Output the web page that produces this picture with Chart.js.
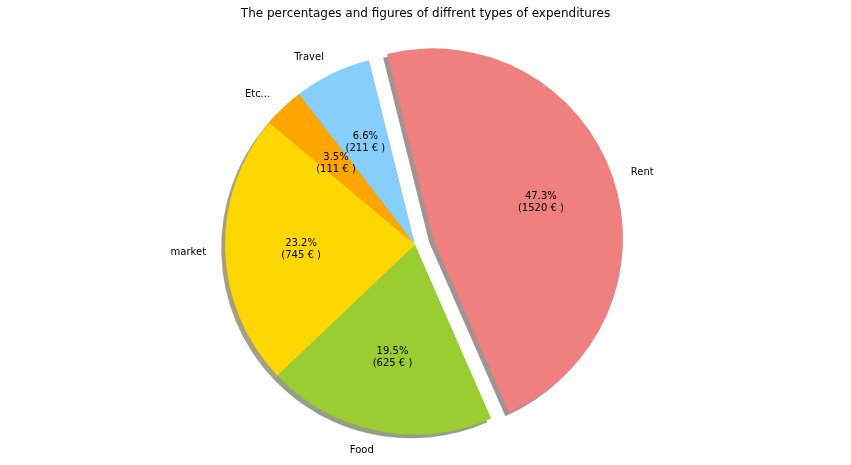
<!DOCTYPE html>
<html>
<head>
<meta charset="utf-8">
<title>Expenditures</title>
<script src="https://cdn.jsdelivr.net/npm/chart.js@4/dist/chart.umd.min.js"></script>
<style>
  html, body { margin: 0; padding: 0; background: #fff; }
  canvas { display: block; }
</style>
</head>
<body>
<canvas id="chart" width="851" height="465"></canvas>
<script>
'use strict';

// ── Datos (orden horario a partir de Rent) ─────────────────────────────
const labels  = ['Rent', 'Food', 'market', 'Etc...', 'Travel'];
const amounts = [1520, 625, 745, 111, 211];
const colors  = ['#F08080', '#9ACD32', '#FFD700', '#FFA500', '#87CEFA'];
const explode = [0.1, 0, 0, 0, 0];

const TITLE  = 'The percentages and figures of diffrent types of expenditures';
const FONT   = "'DejaVu Sans', sans-serif";
const RADIUS = 190;

const total = amounts.reduce((a, b) => a + b, 0);

function shadowOf(hex) {
  const n = parseInt(hex.slice(1), 16);
  const r = Math.round(((n >> 16) & 255) * 0.3);
  const g = Math.round(((n >> 8) & 255) * 0.3);
  const b = Math.round((n & 255) * 0.3);
  return `rgba(${r},${g},${b},0.5)`;
}

// ── Plugin: desplaza los sectores "explotados" ─────────────────────────
const explodePlugin = {
  id: 'explode',
  afterUpdate(chart) {
    chart.getDatasetMeta(0).data.forEach((arc, i) => {
      const d = explode[i] * arc.outerRadius;
      if (!d) return;
      const mid = (arc.startAngle + arc.endAngle) / 2;
      arc.x += Math.cos(mid) * d;
      arc.y += Math.sin(mid) * d;
    });
  },
};

// ── Plugin: sombras tipo matplotlib (shadow=True) ──────────────────────
const shadowPlugin = {
  id: 'pieShadow',
  beforeDatasetsDraw(chart) {
    const ctx = chart.ctx;
    chart.getDatasetMeta(0).data.forEach((arc, i) => {
      const off = 0.02 * arc.outerRadius;
      const x = arc.x - off, y = arc.y + off;
      ctx.save();
      ctx.beginPath();
      ctx.moveTo(x, y);
      ctx.arc(x, y, arc.outerRadius, arc.startAngle, arc.endAngle);
      ctx.closePath();
      ctx.fillStyle = shadowOf(colors[i]);
      ctx.fill();
      ctx.restore();
    });
  },
};

// ── Plugin: etiquetas y porcentajes ────────────────────────────────────
const labelPlugin = {
  id: 'pieLabels',
  afterDatasetsDraw(chart) {
    const ctx = chart.ctx;
    ctx.save();
    ctx.font = `10px ${FONT}`;
    ctx.fillStyle = '#000';
    ctx.textBaseline = 'middle';
    chart.getDatasetMeta(0).data.forEach((arc, i) => {
      const mid = (arc.startAngle + arc.endAngle) / 2;
      const r = arc.outerRadius;
      const cx = Math.cos(mid), cy = Math.sin(mid);

      ctx.textAlign = cx > 0 ? 'left' : 'right';
      ctx.fillText(labels[i], arc.x + cx * r * 1.1, arc.y + cy * r * 1.1 + 1);

      const px = arc.x + cx * r * 0.6, py = arc.y + cy * r * 0.6 + 1;
      const pct = (amounts[i] / total * 100).toFixed(1) + '%';
      ctx.textAlign = 'center';
      ctx.fillText(pct, px, py - 6);
      ctx.fillText(`(${amounts[i]} € )`, px, py + 6);
    });
    ctx.restore();
  },
};

// ── Plugin: título centrado en la figura ───────────────────────────────
const titlePlugin = {
  id: 'figTitle',
  afterDraw(chart) {
    const ctx = chart.ctx;
    ctx.save();
    ctx.font = `12px ${FONT}`;
    ctx.fillStyle = '#000';
    ctx.textAlign = 'center';
    ctx.textBaseline = 'middle';
    ctx.fillText(TITLE, chart.width / 2, 14);
    ctx.restore();
  },
};

new Chart(document.getElementById('chart'), {
  type: 'pie',
  data: {
    labels,
    datasets: [{
      data: amounts,
      backgroundColor: colors,
      borderWidth: 0,
    }],
  },
  options: {
    responsive: false,
    animation: false,
    events: [],
    rotation: -14,
    radius: RADIUS,
    layout: { padding: { top: 24, right: 21, left: 0, bottom: 0 } },
    plugins: {
      legend: { display: false },
      title: { display: false },
      tooltip: { enabled: false },
    },
  },
  plugins: [explodePlugin, shadowPlugin, labelPlugin, titlePlugin],
});
</script>
</body>
</html>
